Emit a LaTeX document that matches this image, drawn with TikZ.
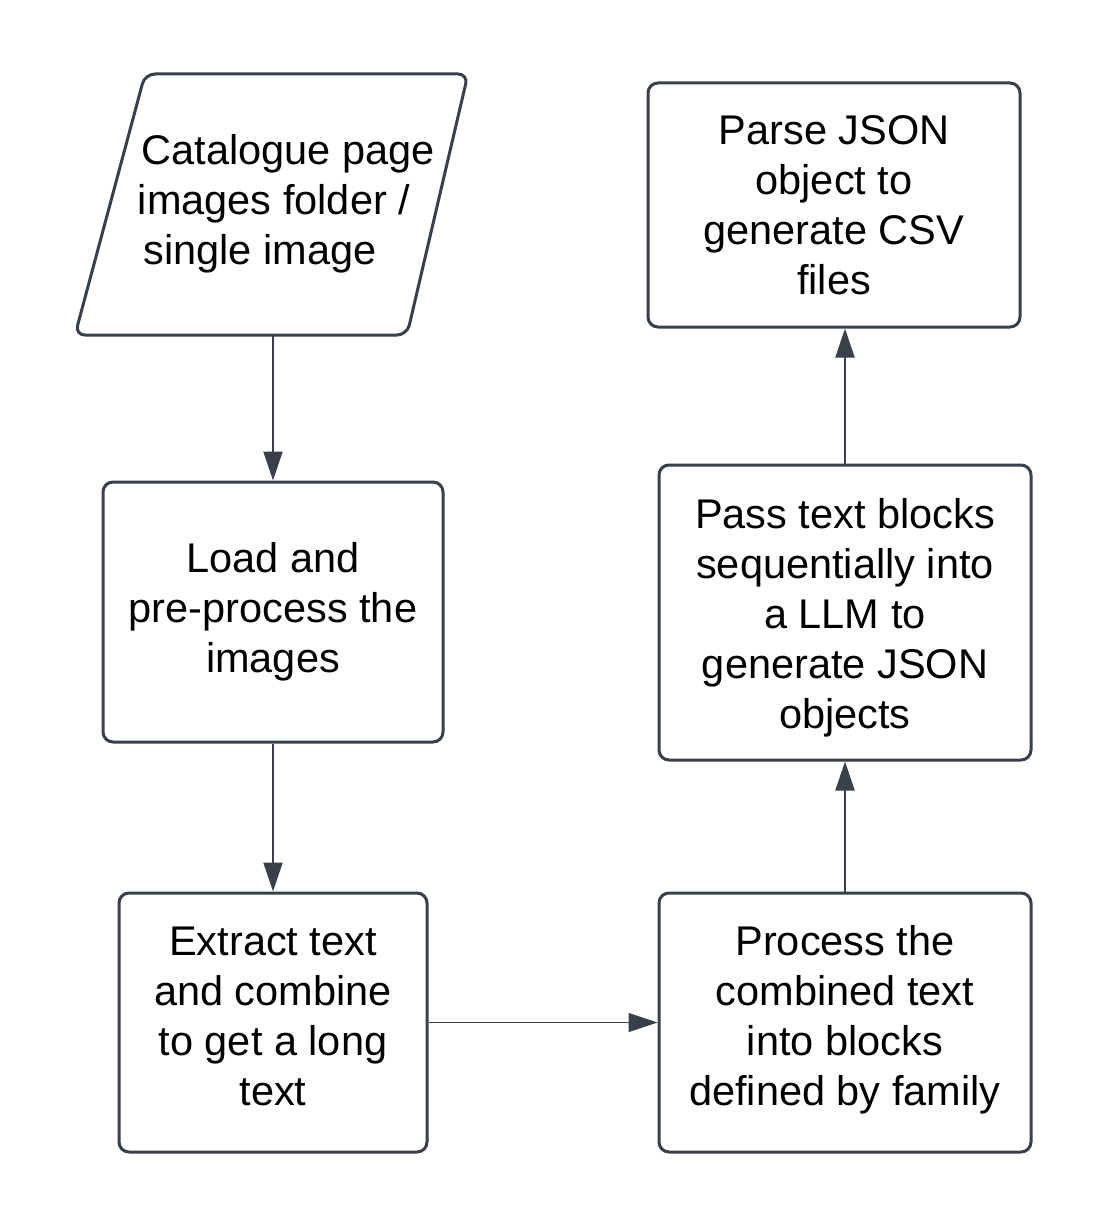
\documentclass[tikz,border=0pt]{standalone}
\usepackage{fontspec}
\setmainfont{Liberation Sans}
\usetikzlibrary{arrows.meta}
\definecolor{stroke}{HTML}{3A4049}
\tikzset{
  boxnode/.style={draw=stroke, line width=3pt, rounded corners=10pt, inner sep=0pt},
  boxtext/.style={inner sep=0pt, align=center, font=\fontsize{41.5}{50}\selectfont, text=black},
  conn/.style={draw=stroke, line width=2pt, -{Triangle[length=29pt,width=19pt]}},
  thinconn/.style={conn, line width=1.3pt},
}
\begin{document}
\begin{tikzpicture}[x=1pt,y=-1pt]
\useasboundingbox (0,0) rectangle (1108,1228);
\fill[white] (0,0) rectangle (1108,1228);

% input parallelogram
\draw[draw=stroke, line width=3pt, rounded corners=10pt]
  (145,74) -- (468,74) -- (407,335) -- (75,335) -- cycle;
\node[boxtext] (src) at (274,204)
  {\hspace*{28pt}Catalogue page\\images folder /\\single image\hspace*{28pt}};
\coordinate (srcb) at (273,335);

\node[boxnode, minimum width=340pt, minimum height=260pt] (load) at (273,612) {};
\node[boxtext] (loadT) at (273,612) {Load and\\pre-process the\\images};

\node[boxnode, minimum width=308pt, minimum height=259pt] (extract) at (273,1022.5) {};
\node[boxtext] (extractT) at (273,1016.5) {Extract text\\and combine\\to get a long\\text};

\node[boxnode, minimum width=372pt, minimum height=259pt] (process) at (845,1022.5) {};
\node[boxtext] (processT) at (845,1019.5) {Process the\\combined text\\into blocks\\defined by family};

\node[boxnode, minimum width=372pt, minimum height=295pt] (pass) at (845,612.5) {};
\node[boxtext] (passT) at (845,617.5) {Pass text blocks\\sequentially into\\a LLM to\\generate JSON\\objects};

\node[boxnode, minimum width=372pt, minimum height=244pt] (parse) at (834,205) {};
\node[boxtext] (parseT) at (834,205) {Parse JSON\\object to\\generate CSV\\files};

\draw[conn] (srcb) -- (load.north);
\draw[conn] (load.south) -- (extract.north);
\draw[thinconn] (extract.east) -- (process.west);
\draw[conn] (process.north) -- (pass.south);
\draw[conn] (pass.north) -- (pass.north |- parse.south);
\end{tikzpicture}
\end{document}
